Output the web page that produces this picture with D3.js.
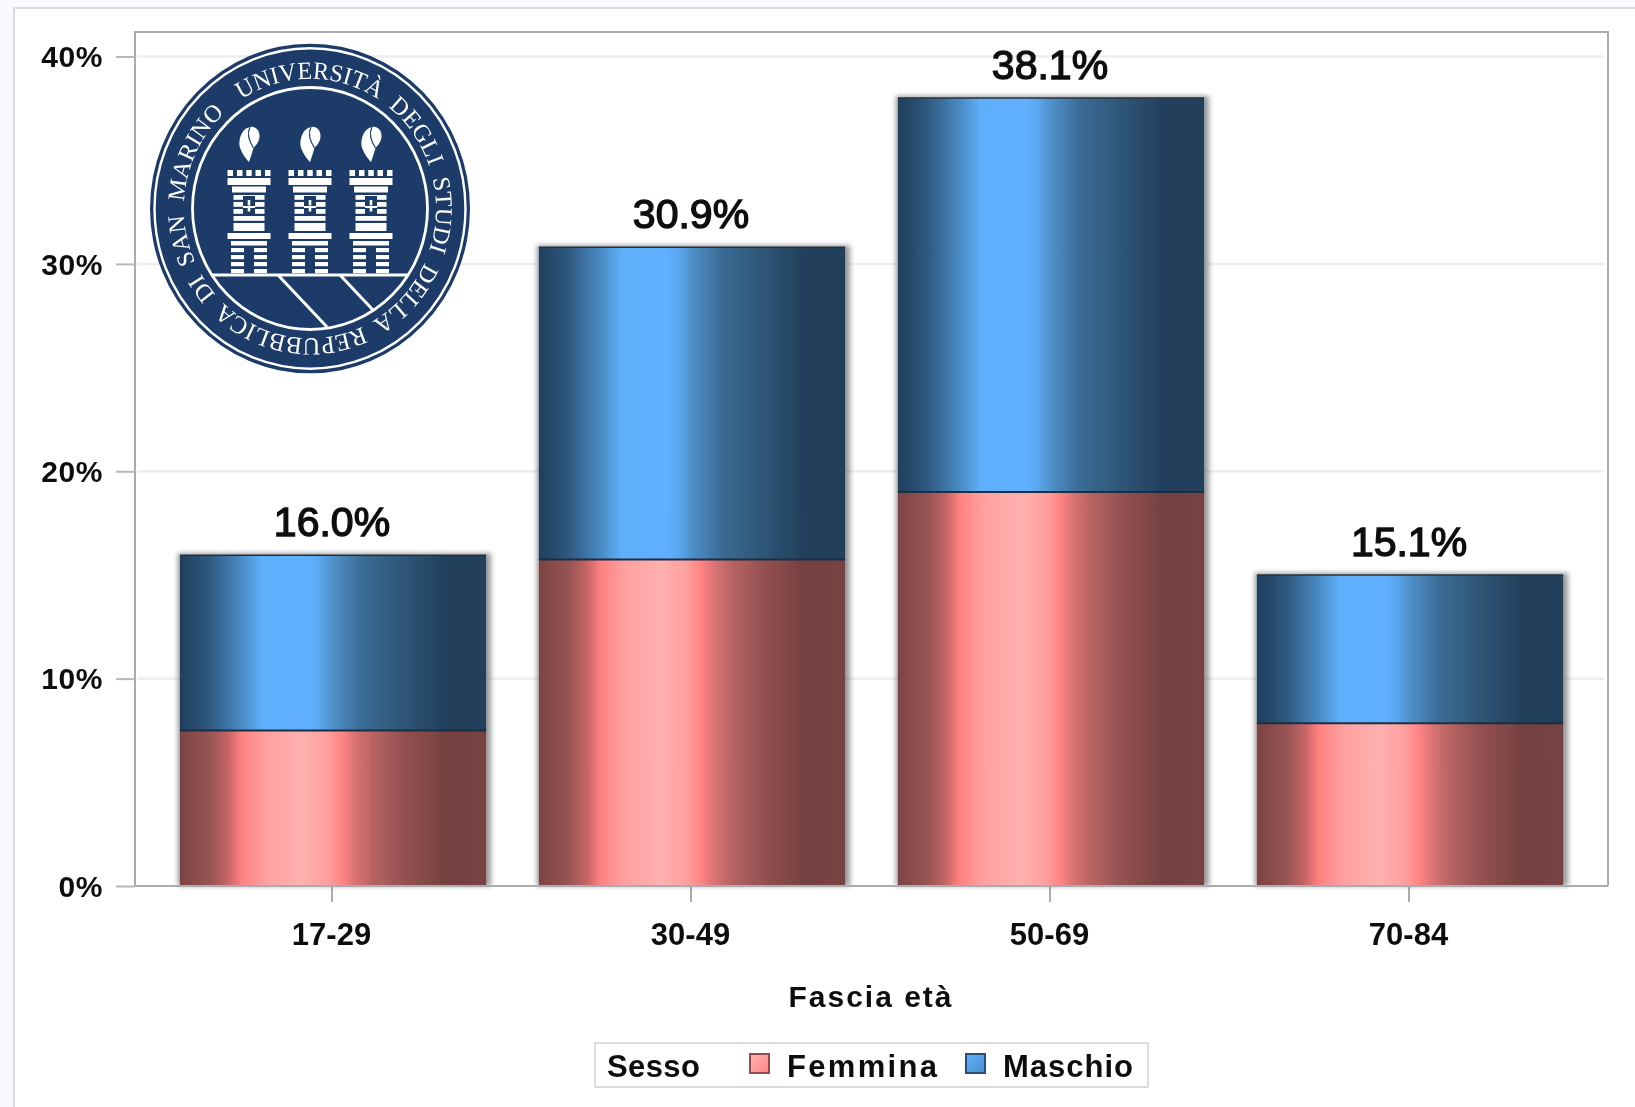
<!DOCTYPE html>
<html><head><meta charset="utf-8">
<script src="https://cdn.jsdelivr.net/npm/d3@7/dist/d3.min.js"></script>
<style>html,body{margin:0;padding:0;background:#f7f9fe;overflow:hidden}svg{display:block}text{font-family:"Liberation Sans",Arial,sans-serif;font-weight:bold;fill:#111}</style>
</head><body><div id="c"></div>
<script>
const categories=["17-29","30-49","50-69","70-84"];
const femmina=[7.5,15.75,19.0,7.85];
const maschio=[8.45,15.05,19.0,7.15];
const totals=["16.0%","30.9%","38.1%","15.1%"];
const yTicks=[0,10,20,30,40];
const seriesNames=["Femmina","Maschio"];

const W=1635,H=1107;
const svg=d3.select("#c").append("svg").attr("width",W).attr("height",H);
const defs=svg.append("defs");
const soft=defs.append("filter").attr("id","soft").attr("x","-2%").attr("y","-2%").attr("width","104%").attr("height","104%");
soft.append("feGaussianBlur").attr("stdDeviation",0.7);
const shadow=defs.append("filter").attr("id","shadow").attr("x","-5%").attr("y","-5%").attr("width","110%").attr("height","110%");
shadow.append("feGaussianBlur").attr("stdDeviation",2.4);
const redStops=[[0,"#7c4343"],[.1,"#985555"],[.16,"#c86666"],[.2,"#ff8080"],[.28,"#ffa0a0"],[.4,"#ffb0b0"],[.48,"#ffa0a0"],[.53,"#ff8484"],[.57,"#dc7474"],[.63,"#b86363"],[.73,"#945151"],[.87,"#754040"],[1,"#784343"]];
const blueStops=[[0,"#1f3e5c"],[.1,"#2f5a80"],[.16,"#3f76a8"],[.22,"#4f94d0"],[.27,"#5fb0fa"],[.42,"#60b0ff"],[.46,"#5aa5ec"],[.5,"#4f90c8"],[.6,"#3a6a94"],[.72,"#2f5778"],[.87,"#223f5c"],[1,"#223f5c"]];
function grad(id,stops){const g=defs.append("linearGradient").attr("id",id);
 stops.forEach(s=>g.append("stop").attr("offset",s[0]).attr("stop-color",s[1]));}
grad("gF",redStops);grad("gM",blueStops);

const root=svg.append("g").attr("filter","url(#soft)");
root.append("rect").attr("x",14).attr("y",8).attr("width",W+20).attr("height",H+20).attr("fill","#fff").attr("stroke","#d9dbe0").attr("stroke-width",2);

const M={l:135,r:1608,t:32,b:886};
const x=d3.scaleBand().domain(categories).range([M.l,M.r]).paddingInner(0.147).paddingOuter(0.125);
const y=d3.scaleLinear().domain([0,40]).range([M.b,56.5]);

// gridlines
root.append("g").selectAll("line").data(yTicks.filter(d=>d>0)).join("line")
 .attr("x1",M.l+2).attr("x2",M.r-4).attr("y1",d=>y(d)).attr("y2",d=>y(d)).attr("stroke","#eeeeee").attr("stroke-width",2.5);

// plot frame
root.append("path").attr("d",`M${M.l},${M.b}V${M.t}H${M.r}V${M.b}`).attr("fill","none").attr("stroke","#a7adb1").attr("stroke-width",2);

// axes
const yAxis=d3.axisLeft(y).tickValues(yTicks).tickFormat(d=>d+"%").tickSize(19).tickPadding(13);
const gy=root.append("g").attr("transform",`translate(${M.l},0)`).call(yAxis);
gy.select(".domain").remove();
gy.selectAll("line").attr("stroke","#b4b9bc").attr("stroke-width",2);
gy.selectAll("text").attr("font-size",30).style("font-family",'"Liberation Sans"').attr("letter-spacing",0.6).attr("dy","0.34em");
const xAxis=d3.axisBottom(x).tickSizeOuter(0).tickSizeInner(16).tickPadding(21);
const gx=root.append("g").attr("transform",`translate(0,${M.b})`).call(xAxis);
gx.select(".domain").remove();
gx.selectAll("line").attr("stroke","#a7adb1").attr("stroke-width",2).attr("transform","translate(-1,0)");
gx.selectAll("text").attr("font-size",31).attr("dx",-1.5).style("font-family",'"Liberation Sans"').attr("dy","0.71em");

// bar shadows + bars
const bars=root.append("g");
const cols=categories.map((c,i)=>({c,f:femmina[i],m:maschio[i],t:totals[i]}));
bars.selectAll("rect.s").data(cols).join("rect").attr("class","s")
 .attr("x",d=>x(d.c)-2).attr("y",d=>y(d.f+d.m)-2).attr("width",x.bandwidth()+7).attr("height",d=>y(0)-y(d.f+d.m)+2)
 .attr("fill","#666").attr("opacity",.65).attr("filter","url(#shadow)");
bars.selectAll("rect.f").data(cols).join("rect").attr("class","f")
 .attr("x",d=>x(d.c)).attr("y",d=>y(d.f)).attr("width",x.bandwidth()).attr("height",d=>y(0)-y(d.f))
 .attr("fill","url(#gF)");
bars.selectAll("rect.m").data(cols).join("rect").attr("class","m")
 .attr("x",d=>x(d.c)).attr("y",d=>y(d.f+d.m)).attr("width",x.bandwidth()).attr("height",d=>y(d.f)-y(d.f+d.m))
 .attr("fill","url(#gM)");
bars.selectAll("line.sep").data(cols).join("line").attr("class","sep")
 .attr("x1",d=>x(d.c)).attr("x2",d=>x(d.c)+x.bandwidth()).attr("y1",d=>y(d.f)).attr("y2",d=>y(d.f))
 .attr("stroke","#1c2f42").attr("stroke-width",2);
bars.selectAll("line.topl").data(cols).join("line").attr("class","topl")
 .attr("x1",d=>x(d.c)).attr("x2",d=>x(d.c)+x.bandwidth()).attr("y1",d=>y(d.f+d.m)).attr("y2",d=>y(d.f+d.m))
 .attr("stroke","#26333f").attr("stroke-width",1.5);
root.append("path").attr("d",`M${M.l},${M.b}H${M.r}`).attr("stroke","#a7adb1").attr("stroke-width",2);

// totals
root.append("g").selectAll("text").data(cols).join("text")
 .attr("x",d=>x(d.c)+x.bandwidth()/2-1).attr("y",d=>y(d.f+d.m)-19)
 .attr("text-anchor","middle").attr("font-size",41).style("font-weight","normal")
 .attr("stroke","#111").attr("stroke-width",1.4).text(d=>d.t);

// axis title
root.append("text").attr("x",871).attr("y",1007).attr("text-anchor","middle").attr("font-size",30).attr("letter-spacing",2).text("Fascia età");

// legend
const lg=root.append("g");
lg.append("rect").attr("x",595).attr("y",1043).attr("width",553).attr("height",44).attr("fill","#fff").attr("stroke","#dcdcdc").attr("stroke-width",2);
lg.append("text").attr("x",607).attr("y",1077).attr("font-size",31).attr("letter-spacing",0.4).text("Sesso");
const lgX={Femmina:[750,787,2.3],Maschio:[966,1003,1.0]};
seriesNames.forEach((n,i)=>{
 const [bx,tx,ls]=lgX[n];
 lg.append("rect").attr("x",bx).attr("y",1054).attr("width",19).attr("height",19)
  .attr("fill",i?"url(#gLM)":"url(#gLF)").attr("stroke",i?"#2a4f72":"#8f5050").attr("stroke-width",2);
 lg.append("text").attr("x",tx).attr("y",1077).attr("font-size",31).attr("letter-spacing",ls).text(n);
});
const gLF=defs.append("linearGradient").attr("id","gLF").attr("x1",0).attr("y1",0).attr("x2",1).attr("y2",1);
gLF.append("stop").attr("offset",0).attr("stop-color","#ffb5b5");gLF.append("stop").attr("offset",1).attr("stop-color","#ff8585");
const gLM=defs.append("linearGradient").attr("id","gLM").attr("x1",0).attr("y1",0).attr("x2",1).attr("y2",1);
gLM.append("stop").attr("offset",0).attr("stop-color","#60b0ff");gLM.append("stop").attr("offset",1).attr("stop-color","#4a90cc");

// seal
const navy="#1a3a68";
const sealOuter=root.append("g").attr("transform","translate(310,208.5) scale(1,1.03)");
sealOuter.append("circle").attr("r",160).attr("fill",navy);
sealOuter.append("circle").attr("r",155.5).attr("fill","none").attr("stroke","#fff").attr("stroke-width",2.4);
sealOuter.append("circle").attr("r",117.5).attr("fill","none").attr("stroke","#fff").attr("stroke-width",2.8);
const R=126,a0=-33*Math.PI/180,sx=R*Math.sin(a0),sy=-R*Math.cos(a0);
defs.append("path").attr("id","ring").attr("d",`M${sx},${sy} A${R},${R} 0 1,1 ${-sx},${-sy} A${R},${R} 0 1,1 ${sx},${sy}`);
sealOuter.append("text").style("fill","#fff").style("font-family",'"Liberation Serif"').style("font-weight","normal").attr("font-size",24).attr("word-spacing",6)
 .append("textPath").attr("href","#ring").attr("textLength",770).attr("lengthAdjust","spacing").text("UNIVERSITÀ DEGLI STUDI DELLA REPUBBLICA DI SAN MARINO");
const seal=root.append("g").attr("transform","translate(310,209)");
// ground and slanted lines
const wl=(x1,y1,x2,y2,w)=>seal.append("line").attr("x1",x1).attr("y1",y1).attr("x2",x2).attr("y2",y2).attr("stroke","#fff").attr("stroke-width",w);
wl(-98,66,98,66,3);
wl(-32,66,17,118,3);wl(30,66,63,101,3);
// towers
[-61,0,61].forEach(cx=>{
 const t=seal.append("g").attr("transform",`translate(${cx},0)`);
 const r=(x,y,w,h,f)=>t.append("rect").attr("x",x).attr("y",y).attr("width",w).attr("height",h).attr("fill",f||"#fff");
 [-21.5,-12,-2.75,6.5,16].forEach(v=>r(v,-39,5.5,6));
 r(-21.5,-31,43,7);
 r(-17,-22.5,34,6);
 [-14,-7,0,7].forEach(v=>r(-15.5,v,31,4.8));
 r(-15.5,14,31,8);
 r(-6,-13,12,19,navy);
 [-9,-3].forEach(v=>r(-1.3,v,2.6,5.5));
 r(-6,-3,12,2);
 r(-21.5,24,43,6);
 r(-18,32,36,4.5);
 [39,46,53,60].forEach(v=>{r(-18,v,13,4.2);r(5,v,13,4.2);});
 // flame
 t.append("path").attr("d","M1,-82 C7,-83 11,-78 10.5,-72 C10,-66 6,-63 4.5,-61 C3,-56 1.5,-51 0,-47 C-3,-50 -8,-57 -9.5,-63 C-10.5,-72 -6,-81 1,-82 Z").attr("fill","#fff");
 t.append("path").attr("d","M1,-82 C-2,-76 0,-68 4.5,-61").attr("fill","none").attr("stroke",navy).attr("stroke-width",1.2);
});
</script></body></html>
